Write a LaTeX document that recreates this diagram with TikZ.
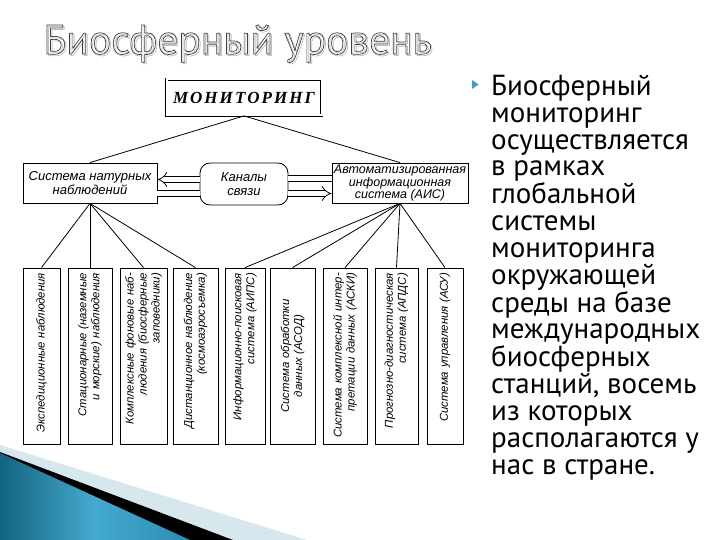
\documentclass[tikz,border=0pt]{standalone}
\usepackage{fontspec}
\setmainfont{Liberation Sans}
\newfontfamily\ptsans{PT Sans}
\newfontfamily\monfont[LetterSpace=12]{Liberation Serif}
\usetikzlibrary{arrows.meta}
\definecolor{waveA}{HTML}{12647F}
\definecolor{waveB}{HTML}{45AACF}
\definecolor{waveC}{HTML}{2B8CB3}
\definecolor{paleA}{HTML}{D7E7EE}
\definecolor{bulletc}{HTML}{3F9FC0}
\newcommand\htxt{\fontsize{13}{14}\selectfont\itshape}
\newcommand\aistxt{\fontsize{12.5}{12.5}\selectfont\itshape}
\newcommand\vtxt{\fontsize{11.4}{13}\selectfont\itshape}
\newcommand\hollow[1]{\special{pdf:literal direct 1 Tr 0.7 w}#1\special{pdf:literal direct 0 Tr}}
\begin{document}
\begin{tikzpicture}[x=1pt, y=-1pt,
    hbox/.style={draw, line width=0.8pt, font=\htxt, align=center, inner sep=1pt},
    vbox/.style={draw, line width=0.8pt, rotate=90, minimum width=176pt, minimum height=#1,
        inner sep=0pt, font=\vtxt, text width=166pt},
    link/.style={line width=0.8pt},
    dbl/.style={double, double distance=4.5pt, line width=0.8pt}]
            \useasboundingbox (0,0) rectangle (720,540);
            \fill[white] (0,0) rectangle (720,540);
            \fill[paleA] (0,445) -- (307,540) -- (0,540) -- cycle;
            \fill[black] (0,452) -- (233,540) -- (0,540) -- cycle;
            \shade[left color=waveA, right color=waveC, middle color=waveB] (0,453) -- (190,540) -- (0,540) -- cycle;
            \node[font=\ptsans\fontsize{41.5}{41.5}\selectfont, text=black!25, anchor=base west] (shadow) at (41.5,55.5)
                {\hollow{Биосферный уровень}};
            \node[font=\ptsans\fontsize{41.5}{41.5}\selectfont, text=black!75, anchor=base west] (title) at (40,54)
                {\hollow{Биосферный уровень}};
            \fill[bulletc] (472,80) -- (478.5,84.5) -- (472,89) -- cycle;
            \node[anchor=north west, align=left, inner sep=0pt, font=\ptsans\fontsize{29}{26.8}\selectfont] (about) at (491,75)
                {Биосферный\\мониторинг\\осуществляется\\в рамках\\глобальной\\системы\\мониторинга\\окружающей\\среды на базе\\международных\\биосферных\\станций, восемь\\из которых\\располагаются у\\нас в стране.};
            \node[draw, double, double distance=2pt, line width=0.8pt, minimum width=155pt, minimum height=36pt,
                font=\monfont\bfseries\itshape\fontsize{17}{17}\selectfont] (mon) at (244,97.5) {МОНИТОРИНГ};
            \node[hbox, minimum width=134pt, minimum height=40pt] (nat) at (90,183) {Система натурных\\наблюдений};
            \node[hbox, rounded corners=10pt, minimum width=88pt, minimum height=42pt] (chan) at (244,184) {Каналы\\связи};
            \node[hbox, minimum width=136pt, minimum height=40pt, font=\aistxt] (ais) at (400,183)
                {Автоматизированная\\информационная\\система (АИС)};
            \draw[link] (mon.south) -- (nat.north);
            \draw[link] (mon.south) -- (ais.north);
            \coordinate (cl) at ([yshift=4.5pt]chan.west);
            \coordinate (cr) at ([yshift=5.5pt]chan.east);
            \coordinate (dl) at ([yshift=-9.5pt]chan.west);
            \coordinate (dr) at ([yshift=-9.5pt]chan.east);
            \draw[dbl, -{Implies[scale=2]}] (cl) -- (cl -| nat.east);
            \draw[dbl] (dl) -- (dl -| nat.east);
            \draw[dbl] (cr) -- (cr -| ais.west);
            \draw[dbl, -{Implies[scale=2]}] (dr) -- (dr -| ais.west);
            \foreach \n/\x/\w/\al/\txt in {1/41.5/37/right/{Экспедиционные наблюдения},
                2/90/44/right/{Стационарные (наземные\\и морские) наблюдения},
                3/143.5/47/right/{Комплексные фоновые наб-\\людения (биосферные\\заповедники)},
                4/195.5/45/right/{Дистанционное наблюдение\\(космоаэросъемка)},
                5/245/40/right/{Информационно-поисковая\\система (АИПС)},
                6/292.5/45/center/{Система обработки\\данных (АСОД)},
                7/345/44/right/{Система комплексной интер-\\претации данных (АСКИ)},
                8/396.5/43/right/{Прогнозно-диагностическая\\система (АПДС)},
                9/445/36/right/{Система управления (АСУ)}}
            \node[vbox=\w pt, align=\al] (b\n) at (\x,356) {\txt};
            \foreach \n in {1,...,4}
            \draw[link] (nat.south) -- (b\n.east);
            \foreach \n in {5,...,9}
            \draw[link] (ais.south) -- (b\n.east);
        \end{tikzpicture}
\end{document}
